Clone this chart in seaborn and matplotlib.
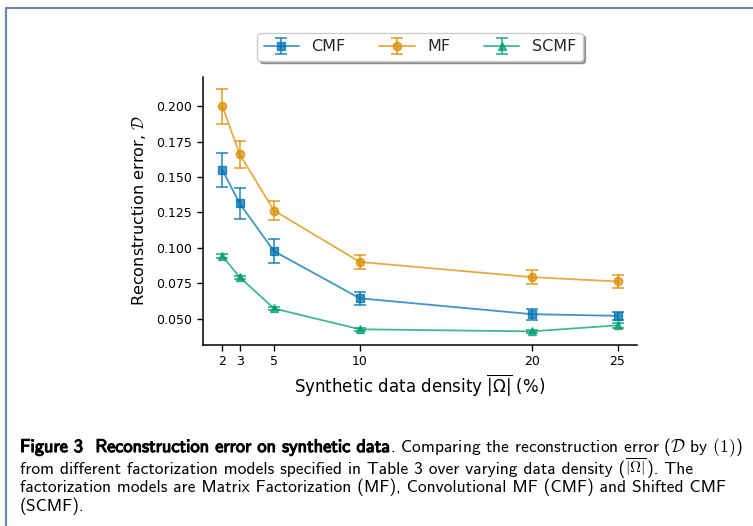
import matplotlib
matplotlib.use("Agg")
import matplotlib.pyplot as plt
import matplotlib.patheffects as pe
from matplotlib.lines import Line2D
import seaborn as sns

# Data density (%) and reconstruction error (mean, error bar half-width)
density = [2, 3, 5, 10, 20, 25]

cmf_mean = [0.155, 0.1314, 0.0976, 0.0643, 0.0531, 0.0519]
cmf_err = [0.0123, 0.0110, 0.0085, 0.0044, 0.0039, 0.0030]

mf_mean = [0.200, 0.1662, 0.1264, 0.0900, 0.0793, 0.0762]
mf_err = [0.0122, 0.0096, 0.0065, 0.0047, 0.0048, 0.0048]

scmf_mean = [0.0941, 0.0793, 0.0571, 0.0424, 0.0409, 0.0452]
scmf_err = [0.0012, 0.0010, 0.0010, 0.0010, 0.0010, 0.0018]

model_names = ["CMF", "MF", "SCMF"]
model_markers = ["s", "o", "^"]

y_ticks = [0.050, 0.075, 0.100, 0.125, 0.150, 0.175, 0.200]

sns.set_theme(style="ticks", palette="colorblind")
plt.rcParams["font.family"] = ["DejaVu Sans"]
palette = sns.color_palette("colorblind")

W, H, DPI = 753, 526, 100
fig = plt.figure(figsize=(W / DPI, H / DPI), dpi=DPI)
fig.patch.set_facecolor("white")

ax = fig.add_axes([202.7 / W, 1 - 345 / H, (637.3 - 202.7) / W, (345 - 77) / H])

series = [(cmf_mean, cmf_err), (mf_mean, mf_err), (scmf_mean, scmf_err)]
for (mean, err), name, mk, col in zip(series, model_names, model_markers, palette):
    ax.errorbar(density, mean, yerr=err, fmt=mk + "-", color=col, alpha=0.75,
                capsize=4, markersize=6, linewidth=1.3, elinewidth=1.3,
                capthick=1.3, label=name)

ax.set_xticks(density)
ax.set_yticks(y_ticks)
ax.set_yticklabels([f"{v:.3f}" for v in y_ticks])
ax.tick_params(axis="both", labelsize=9, length=4, width=1, color="black",
               labelcolor="black")
for side in ("left", "bottom"):
    ax.spines[side].set_color("black")
    ax.spines[side].set_linewidth(1.1)
sns.despine(ax=ax)

ax.set_xlabel(r"Synthetic data density $\overline{|\Omega|}$ (%)", fontsize=12,
              labelpad=3, color="black")
ax.set_ylabel(r"Reconstruction error, $\mathcal{D}$", fontsize=11.6,
              color="black", math_fontfamily="cm", labelpad=6)

handles, labels = ax.get_legend_handles_labels()
leg = fig.legend(handles, labels, loc="upper center", ncol=3,
                 bbox_to_anchor=(420 / W, 1 - 33 / H), fontsize=11.5,
                 frameon=True, fancybox=True, shadow=True, framealpha=1,
                 edgecolor="#cccccc", columnspacing=2.1, handlelength=2.2,
                 borderpad=0.4, borderaxespad=0)

# Page frame around the figure block
frame_col = "#6d89ad"
fig.add_artist(Line2D([5.5 / W, 5.5 / W], [0, 1 - 7.5 / H], color=frame_col,
                      linewidth=1.6, transform=fig.transFigure))
fig.add_artist(Line2D([5.5 / W, 1], [1 - 7.5 / H, 1 - 7.5 / H], color=frame_col,
                      linewidth=1.6, transform=fig.transFigure))

# Caption
cap_size = 12.6
cap_kw = dict(fontsize=cap_size, family="cmss10", math_fontfamily="cm",
              color="black", va="baseline", ha="left")
bold_fx = [pe.withStroke(linewidth=0.8, foreground="black")]
x0 = 20 / W
baselines = [452, 474, 492, 511]
renderer = fig.canvas.get_renderer()


def caption_run(x_px, base_px, pieces):
    """Draw consecutive text pieces on one baseline; returns end x in pixels."""
    for text, extra in pieces:
        kw = dict(cap_kw)
        kw.update(extra)
        t = fig.text(x_px / W, 1 - base_px / H, text, **kw)
        x_px = t.get_window_extent(renderer).x1
    return x_px


end_bold = caption_run(x0 * W, baselines[0], [
    ("Figure 3  Reconstruction error on synthetic data",
     dict(fontsize=13.2, path_effects=bold_fx)),
])
caption_run(end_bold - 2, baselines[0], [
    (r". Comparing the reconstruction error ($\mathcal{D}$ by $(1)$)", {}),
])
caption_run(x0 * W, baselines[1], [
    ("from different factorization models specified in Table 3 over varying data density (", {}),
    (r"$\overline{|\Omega|}$", dict(fontsize=11.0)),
    ("). The", {}),
])
caption_run(x0 * W, baselines[2], [
    ("factorization models are Matrix Factorization (MF), Convolutional MF (CMF) and Shifted CMF", {}),
])
caption_run(x0 * W, baselines[3], [("(SCMF).", {})])

fig.savefig("out.png", dpi=DPI, facecolor="white")
